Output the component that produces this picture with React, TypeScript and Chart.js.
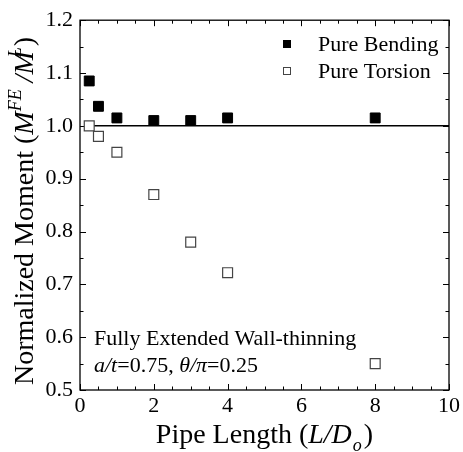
import React, { useEffect, useRef } from "react";
import { Chart, registerables } from "chart.js";

Chart.register(...registerables);

const pipeLengths = [0.25, 0.5, 1, 2, 3, 4, 8];
const pureBending = [1.085, 1.037, 1.015, 1.01, 1.01, 1.015, 1.015];
const pureTorsion = [1.0, 0.98, 0.95, 0.87, 0.78, 0.722, 0.55];
const referenceLineX = [0.25, 10];
const referenceLineY = [1.0, 1.0];
const xTickValues = [0, 2, 4, 6, 8, 10];
const yTickValues = [0.5, 0.6, 0.7, 0.8, 0.9, 1.0, 1.1, 1.2];
const legendLabels = ["Pure Bending", "Pure Torsion"];

const SERIF = '"Liberation Serif", "Times New Roman", serif';

type Seg = { text: string; size: number; italic?: boolean; dy?: number; dx?: number };

function segWidth(ctx: CanvasRenderingContext2D, s: Seg) {
  ctx.font = `${s.italic ? "italic " : ""}${s.size}px ${SERIF}`;
  return ctx.measureText(s.text).width + (s.dx || 0);
}

function drawRich(ctx: CanvasRenderingContext2D, segs: Seg[], x: number, y: number, align: "left" | "center") {
  let total = 0;
  for (const s of segs) total += segWidth(ctx, s);
  let cx = align === "center" ? x - total / 2 : x;
  ctx.textAlign = "left";
  ctx.textBaseline = "alphabetic";
  ctx.fillStyle = "#000";
  for (const s of segs) {
    ctx.font = `${s.italic ? "italic " : ""}${s.size}px ${SERIF}`;
    cx += s.dx || 0;
    ctx.fillText(s.text, cx, y + (s.dy || 0));
    cx += ctx.measureText(s.text).width;
  }
}

const decorPlugin = {
  id: "decor",
  beforeDatasetsDraw(chart: any) {
    const { ctx, chartArea } = chart;
    const { left, right, top, bottom } = chartArea;
    const xs = chart.scales.x;
    const ys = chart.scales.y;
    ctx.save();
    ctx.strokeStyle = "#000";
    ctx.lineWidth = 1.3;
    ctx.strokeRect(left, top, right - left, bottom - top);
    ctx.lineWidth = 1;
    ctx.beginPath();
    for (let v = 0; v <= 10.001; v += 0.5) {
      const major = Math.abs(v / 2 - Math.round(v / 2)) < 1e-6;
      const len = major ? 6 : 3.5;
      const px = Math.round(xs.getPixelForValue(v)) + 0.5;
      ctx.moveTo(px, bottom);
      ctx.lineTo(px, bottom - len);
      ctx.moveTo(px, top);
      ctx.lineTo(px, top + len);
    }
    for (let i = 0; i <= 14; i++) {
      const v = 0.5 + i * 0.05;
      const major = i % 2 === 0;
      const len = major ? 6 : 3.5;
      const py = Math.round(ys.getPixelForValue(v)) + 0.5;
      ctx.moveTo(left, py);
      ctx.lineTo(left + len, py);
      ctx.moveTo(right, py);
      ctx.lineTo(right - len, py);
    }
    ctx.stroke();
    ctx.restore();
  },
  afterDraw(chart: any) {
    const { ctx, chartArea } = chart;
    ctx.save();
    // x title
    const xc = (chartArea.left + chartArea.right) / 2;
    drawRich(
      ctx,
      [
        { text: "Pipe Length (", size: 28 },
        { text: "L/D", size: 28, italic: true },
        { text: "o", size: 18, italic: true, dy: 8, dx: 1 },
        { text: ")", size: 28, dx: 2 },
      ],
      xc,
      443,
      "center"
    );
    // y title
    ctx.save();
    ctx.translate(33, 211);
    ctx.rotate(-Math.PI / 2);
    drawRich(
      ctx,
      [
        { text: "Normalized Moment (", size: 28 },
        { text: "M", size: 28, italic: true },
        { text: "FE", size: 18, italic: true, dy: -12 },
        { text: " /", size: 28, italic: true },
        { text: "M", size: 28, italic: true },
        { text: "L", size: 18, italic: true, dy: -12, dx: -6 },
        { text: ")", size: 28, dx: 1 },
      ],
      0,
      0,
      "center"
    );
    ctx.restore();

    // legend
    const ds = chart.data.datasets;
    const rows = [44, 71];
    for (let i = 0; i < 2; i++) {
      const d = ds[i];
      const cy = rows[i];
      const cx = 287;
      const h = 4;
      ctx.fillStyle = d.backgroundColor;
      ctx.fillRect(cx - h, cy - h, 2 * h, 2 * h);
      ctx.strokeStyle = d.borderColor;
      ctx.lineWidth = 1;
      ctx.strokeRect(cx - h + 0.5, cy - h + 0.5, 2 * h - 1, 2 * h - 1);
      ctx.fillStyle = "#000";
      ctx.font = `22px ${SERIF}`;
      ctx.textAlign = "left";
      ctx.textBaseline = "alphabetic";
      ctx.fillText(legendLabels[i], 318, cy + 7);
    }

    // annotation
    drawRich(ctx, [{ text: "Fully Extended Wall-thinning", size: 22 }], 94, 345, "left");
    drawRich(
      ctx,
      [
        { text: "a", size: 22, italic: true },
        { text: "/", size: 22, italic: true },
        { text: "t", size: 22, italic: true },
        { text: "=0.75, ", size: 22 },
        { text: "θ", size: 22, italic: true },
        { text: "/", size: 22, italic: true },
        { text: "π", size: 22, italic: true },
        { text: "=0.25", size: 22 },
      ],
      94,
      372,
      "left"
    );
    ctx.restore();
  },
};

export default function App() {
  const ref = useRef<HTMLCanvasElement | null>(null);
  useEffect(() => {
    if (!ref.current) return;
    const chart = new Chart(ref.current, {
      type: "scatter",
      data: {
        datasets: [
          {
            label: legendLabels[0],
            data: pipeLengths.map((x, i) => ({ x, y: pureBending[i] })),
            pointStyle: "rect",
            pointRadius: 7,
            backgroundColor: "#000",
            borderColor: "#000",
            borderWidth: 1,
            order: 1,
          },
          {
            label: legendLabels[1],
            data: pipeLengths.map((x, i) => ({ x, y: pureTorsion[i] })),
            pointStyle: "rect",
            pointRadius: 7,
            backgroundColor: "#fff",
            borderColor: "#444",
            borderWidth: 1.2,
            order: 2,
          },
          {
            type: "line",
            label: "ref",
            data: referenceLineX.map((x, i) => ({ x, y: referenceLineY[i] })),
            borderColor: "#000",
            borderWidth: 1.5,
            pointRadius: 0,
            showLine: true,
            fill: false,
            order: 3,
          } as any,
        ],
      },
      options: {
        animation: false,
        responsive: false,
        maintainAspectRatio: false,
        layout: { padding: { top: 16, right: 13, left: 0, bottom: 0 } },
        plugins: { legend: { display: false }, tooltip: { enabled: false } },
        scales: {
          x: {
            type: "linear",
            min: 0,
            max: 10,
            grid: { display: false, drawTicks: false },
            border: { display: false },
            afterBuildTicks: (s: any) => {
              s.ticks = xTickValues.map((v) => ({ value: v }));
            },
            afterFit: (s: any) => {
              s.height = 62;
            },
            ticks: {
              padding: 3,
              color: "#000",
              font: { family: SERIF, size: 22 },
              callback: (v: any) => String(v),
              maxRotation: 0,
            },
          },
          y: {
            type: "linear",
            min: 0.5,
            max: 1.2,
            grid: { display: false, drawTicks: false },
            border: { display: false },
            afterBuildTicks: (s: any) => {
              s.ticks = yTickValues.map((v) => ({ value: v }));
            },
            afterFit: (s: any) => {
              s.width = 80;
            },
            ticks: {
              padding: 7,
              color: "#000",
              font: { family: SERIF, size: 22 },
              callback: (v: any) => Number(v).toFixed(1),
            },
          },
        },
      },
      plugins: [decorPlugin],
    });
    return () => chart.destroy();
  }, []);
  return (
    <div style={{ position: "absolute", left: 0, top: 0, width: 463, height: 452, background: "#fff" }}>
      <canvas ref={ref} width={463} height={452} style={{ display: "block", width: 463, height: 452 }} />
    </div>
  );
}
